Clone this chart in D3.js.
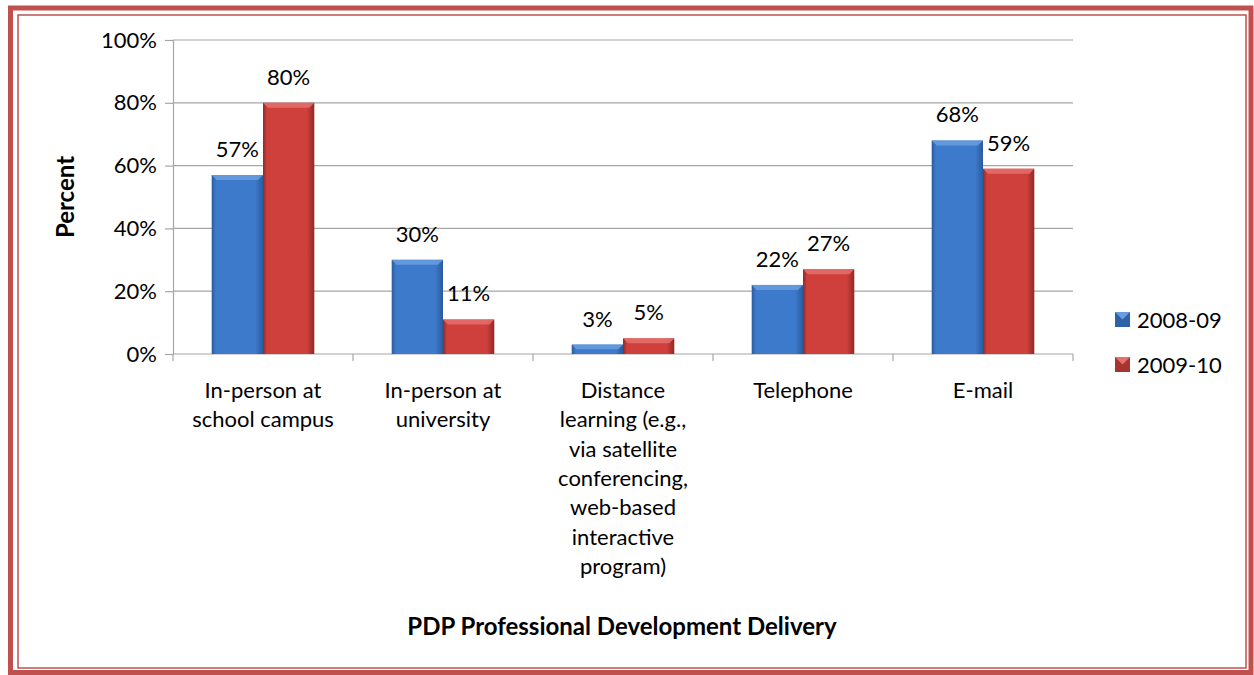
<html>
<head>
<style>
  body { margin: 0; background: #fff; }
  text { font-family: Lato, "Open Sans", sans-serif; fill: #000; }
</style>
</head>
<body>
<script src="https://cdn.jsdelivr.net/npm/d3@7"></script>
<script>
var categories = [
  ["In-person at", "school campus"],
  ["In-person at", "university"],
  ["Distance", "learning (e.g.,", "via satellite", "conferencing,", "web-based", "interactive", "program)"],
  ["Telephone"],
  ["E-mail"]
];
var series = ["2008-09", "2009-10"];
var values0809 = [57, 30, 3, 22, 68];
var values0910 = [80, 11, 5, 27, 59];
var yTicks = [0, 20, 40, 60, 80, 100];

var W = 1254, H = 675;
var svg = d3.select("body").append("svg").attr("width", W).attr("height", H);

// frame
svg.append("rect").attr("x", 10.5).attr("y", 8).attr("width", 1240.5).attr("height", 664.5)
  .attr("fill", "none").attr("stroke", "#c0504d").attr("stroke-width", 5);
svg.append("rect").attr("x", 18).attr("y", 15).attr("width", 1228).attr("height", 653)
  .attr("fill", "none").attr("stroke", "#c0504d").attr("stroke-width", 1.5);

var defs = svg.append("defs");
function grad(id, edge, mid) {
  var g = defs.append("linearGradient").attr("id", id).attr("x1", 0).attr("x2", 1).attr("y1", 0).attr("y2", 0);
  g.append("stop").attr("offset", "0%").attr("stop-color", edge);
  g.append("stop").attr("offset", "8%").attr("stop-color", mid);
  g.append("stop").attr("offset", "85%").attr("stop-color", mid);
  g.append("stop").attr("offset", "100%").attr("stop-color", edge);
}
grad("gBlue", "#2a5a9c", "#3d7acb");
grad("gRed", "#8e2a27", "#cf403c");
var colors = ["url(#gBlue)", "url(#gRed)"];
var topColors = ["#6a9de0", "#e5706c"];
var legendColors = [["#2d62a8", "#6a9de0"], ["#a83431", "#e5706c"]];

var plotLeft = 173, plotRight = 1073, plotTop = 40, plotBottom = 354;
var x = d3.scaleBand().domain(d3.range(categories.length)).range([plotLeft, plotRight]).paddingInner(0.43).paddingOuter(0.215);
var xs = d3.scaleBand().domain(d3.range(series.length)).range([0, x.bandwidth()]);
var y = d3.scaleLinear().domain([0, 100]).range([plotBottom, plotTop]);

// gridlines
svg.append("g").selectAll("line").data(yTicks.slice(1)).enter().append("line")
  .attr("x1", plotLeft).attr("x2", plotRight)
  .attr("y1", function (d) { return y(d); }).attr("y2", function (d) { return y(d); })
  .attr("stroke", "#a6a6a6").attr("stroke-width", 1.2);

// y axis
var yAxis = svg.append("g").attr("transform", "translate(" + plotLeft + ",0)")
  .call(d3.axisLeft(y).tickValues(yTicks).tickSize(8).tickPadding(8).tickFormat(function (d) { return d + "%"; }));
yAxis.select(".domain").attr("stroke", "#a6a6a6").attr("stroke-width", 1.2);
yAxis.selectAll(".tick line").attr("stroke", "#a6a6a6").attr("stroke-width", 1.2);
yAxis.selectAll(".tick text").style("font-size", "22px").style("font-family", "Lato").attr("fill", "#000");

// x axis line + ticks at band edges
var step = (plotRight - plotLeft) / categories.length;
svg.append("line").attr("x1", plotLeft).attr("x2", plotRight).attr("y1", plotBottom).attr("y2", plotBottom)
  .attr("stroke", "#a6a6a6").attr("stroke-width", 1.2);
svg.append("g").selectAll("line").data(d3.range(categories.length + 1)).enter().append("line")
  .attr("x1", function (i) { return plotLeft + i * step; }).attr("x2", function (i) { return plotLeft + i * step; })
  .attr("y1", plotBottom).attr("y2", plotBottom + 7)
  .attr("stroke", "#a6a6a6").attr("stroke-width", 1.2);

// bars
var data = [values0809, values0910];
data.forEach(function (vals, s) {
  var g = svg.append("g");
  var bars = g.selectAll("g").data(vals).enter().append("g");
  bars.append("rect")
    .attr("x", function (d, i) { return x(i) + xs(s); })
    .attr("y", function (d) { return y(d); })
    .attr("width", xs.bandwidth())
    .attr("height", function (d) { return plotBottom - y(d); })
    .attr("fill", colors[s]);
  bars.append("polygon")
    .attr("points", function (d, i) {
      var x0 = x(i) + xs(s), x1 = x0 + xs.bandwidth(), yt = y(d), b = Math.min(5, (plotBottom - yt) / 2);
      return [[x0, yt], [x1, yt], [x1 - b, yt + b], [x0 + b, yt + b]].join(" ");
    })
    .attr("fill", topColors[s]).attr("opacity", 0.85);
  bars.append("text")
    .attr("x", function (d, i) { return x(i) + xs(s) + xs.bandwidth() / 2; })
    .attr("y", function (d) { return y(d) - 18; })
    .attr("text-anchor", "middle").style("font-size", "22px")
    .text(function (d) { return d + "%"; });
});

// category labels
var cat = svg.append("g").selectAll("text").data(categories).enter().append("text")
  .attr("text-anchor", "middle").style("font-size", "22px")
  .attr("x", function (d, i) { return x(i) + x.bandwidth() / 2; })
  .attr("y", 398);
cat.selectAll("tspan").data(function (d) { return d; }).enter().append("tspan")
  .attr("x", function () { return d3.select(this.parentNode).attr("x"); })
  .attr("dy", function (d, i) { return i === 0 ? 0 : 29.3; })
  .text(function (d) { return d; });

// axis titles
svg.append("text").attr("x", 622).attr("y", 635).attr("text-anchor", "middle")
  .style("font-size", "24px").style("font-weight", "bold")
  .text("PDP Professional Development Delivery");
svg.append("text").attr("transform", "translate(74,197) rotate(-90)").attr("text-anchor", "middle")
  .style("font-size", "24px").style("font-weight", "bold").text("Percent");

// legend
var leg = svg.append("g").selectAll("g").data(series).enter().append("g")
  .attr("transform", function (d, i) { return "translate(1115," + (312 + i * 45) + ")"; });
leg.append("rect").attr("width", 15).attr("height", 15)
  .attr("fill", function (d, i) { return legendColors[i][0]; });
leg.append("polygon").attr("points", "0,0 15,0 7.5,7.5")
  .attr("fill", function (d, i) { return legendColors[i][1]; });
leg.append("text").attr("x", 22).attr("y", 16).style("font-size", "22px").text(function (d) { return d; });
</script>
</body>
</html>
